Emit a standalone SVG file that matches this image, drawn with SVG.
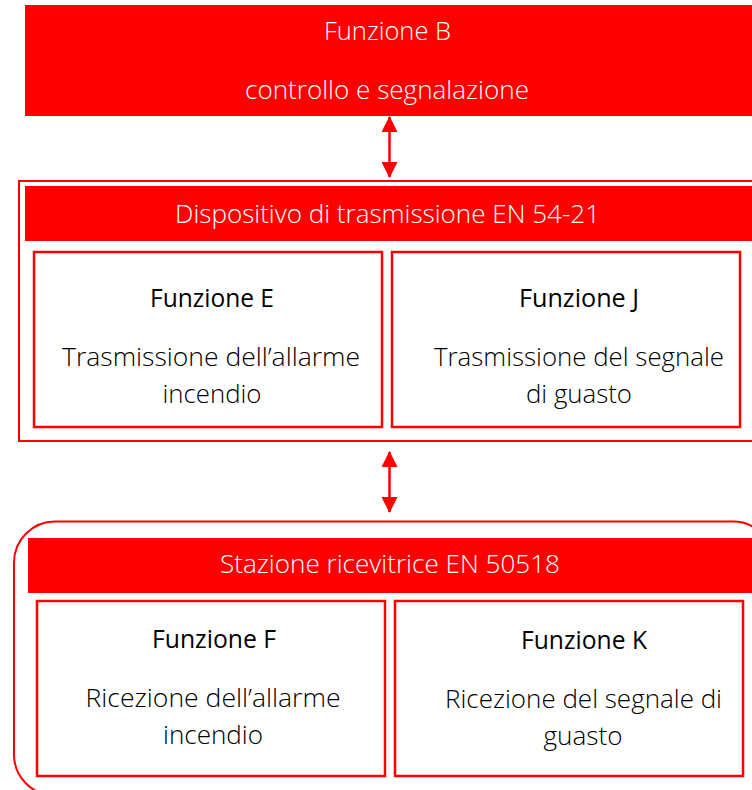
<svg xmlns="http://www.w3.org/2000/svg" width="752" height="790" viewBox="0 0 752 790">
<defs>
<marker id="ah" viewBox="0 0 16 16" refX="15" refY="8" markerWidth="16" markerHeight="16" markerUnits="userSpaceOnUse" orient="auto-start-reverse">
<path d="M0,0 L16,8 L0,16 Z" fill="#FF0000"/>
</marker>
<style>
.band{fill:#FF0000;}
.frame{fill:none;stroke:#FF0000;stroke-width:2;}
.box{fill:#FFFFFF;stroke:#FF0000;stroke-width:2.5;}
.t{font-family:"Open Sans","Noto Sans","Liberation Sans",sans-serif;font-size:25px;text-anchor:middle;}
.w{fill:#FFFFFF;font-weight:300;}
.h{fill:#000000;font-weight:500;}
.b{fill:#000000;font-weight:300;}
.conn{stroke:#FF0000;stroke-width:2.5;fill:none;}
</style>
</defs>
<rect width="752" height="790" fill="#FFFFFF"/>

<g id="funzione-b">
<rect class="band" x="25" y="5" width="740" height="111"/>
<text class="t w" x="387.5" y="40" textLength="127" lengthAdjust="spacingAndGlyphs">Funzione B</text>
<text class="t w" x="387" y="99" textLength="284" lengthAdjust="spacingAndGlyphs">controllo e segnalazione</text>
</g>

<g id="dispositivo">
<rect class="frame" x="19" y="181" width="745" height="260"/>
<rect class="band" x="25" y="186" width="740" height="55"/>
<text class="t w" x="387.5" y="222.5" textLength="425" lengthAdjust="spacingAndGlyphs">Dispositivo di trasmissione EN 54-21</text>
</g>

<g id="funzione-e">
<rect class="box" x="34" y="252" width="348" height="175"/>
<text class="t h" x="212" y="306.5" textLength="124" lengthAdjust="spacingAndGlyphs">Funzione E</text>
<text class="t b" x="211" y="365.5" textLength="298" lengthAdjust="spacingAndGlyphs">Trasmissione dell’allarme</text>
<text class="t b" x="212" y="402.5" textLength="99" lengthAdjust="spacingAndGlyphs">incendio</text>
</g>

<g id="funzione-j">
<rect class="box" x="392" y="252" width="348" height="175"/>
<text class="t h" x="579" y="306.5" textLength="120" lengthAdjust="spacingAndGlyphs">Funzione J</text>
<text class="t b" x="579" y="365.5" textLength="290" lengthAdjust="spacingAndGlyphs">Trasmissione del segnale</text>
<text class="t b" x="579" y="402.5" textLength="106" lengthAdjust="spacingAndGlyphs">di guasto</text>
</g>

<g id="stazione">
<rect class="frame" x="14" y="521.5" width="760" height="274" rx="41" ry="41"/>
<rect class="band" x="28" y="538" width="740" height="55"/>
<text class="t w" x="390" y="573" textLength="340" lengthAdjust="spacingAndGlyphs">Stazione ricevitrice EN 50518</text>
</g>

<g id="funzione-f">
<rect class="box" x="37" y="601" width="348" height="175"/>
<text class="t h" x="214" y="648" textLength="124" lengthAdjust="spacingAndGlyphs">Funzione F</text>
<text class="t b" x="213" y="706.5" textLength="255" lengthAdjust="spacingAndGlyphs">Ricezione dell’allarme</text>
<text class="t b" x="213" y="744" textLength="100" lengthAdjust="spacingAndGlyphs">incendio</text>
</g>

<g id="funzione-k">
<rect class="box" x="395" y="601" width="348" height="175"/>
<text class="t h" x="584" y="649" textLength="126" lengthAdjust="spacingAndGlyphs">Funzione K</text>
<text class="t b" x="583.5" y="708" textLength="277" lengthAdjust="spacingAndGlyphs">Ricezione del segnale di</text>
<text class="t b" x="583" y="745" textLength="79" lengthAdjust="spacingAndGlyphs">guasto</text>
</g>

<g id="connectors">
<line class="conn" x1="389.5" y1="117" x2="389.5" y2="177" marker-start="url(#ah)" marker-end="url(#ah)"/>
<line class="conn" x1="389.5" y1="452" x2="389.5" y2="512" marker-start="url(#ah)" marker-end="url(#ah)"/>
</g>
</svg>
